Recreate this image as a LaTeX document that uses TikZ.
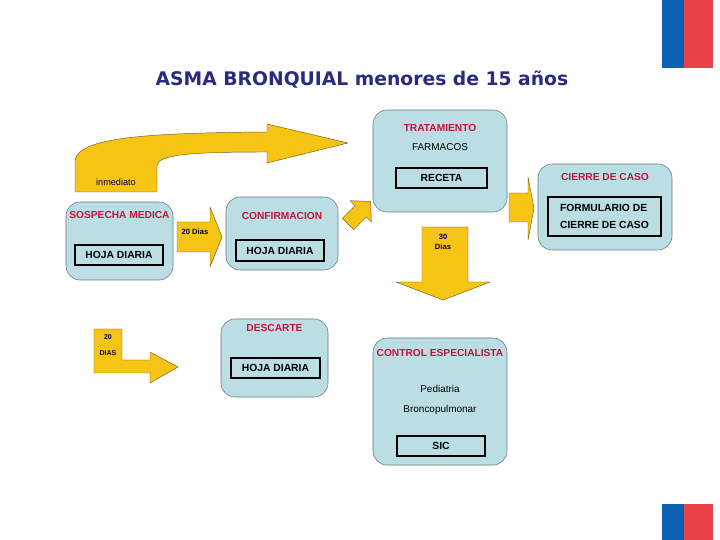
\documentclass[tikz,border=0pt]{standalone}
\usepackage{fontspec}
\setmainfont{Liberation Sans}
\newfontfamily\headfont{DejaVu Sans}
\usetikzlibrary{positioning,calc}
\definecolor{flagblue}{RGB}{12,98,178}
\definecolor{flagred}{RGB}{232,66,72}
\definecolor{headnavy}{RGB}{42,42,128}
\definecolor{boxcyan}{RGB}{186,222,228}
\definecolor{boxedge}{RGB}{105,125,135}
\definecolor{ttlred}{RGB}{196,20,62}
\definecolor{arrgold}{RGB}{246,196,18}
\definecolor{arredge}{RGB}{110,95,40}
\newcommand{\pxu}{0.03cm}
\tikzset{
  stage/.style={rounded corners=12pt, draw=boxedge, line width=0.5pt, fill=boxcyan, inner sep=0pt},
  docbox/.style={draw=black, line width=1pt, inner sep=0pt, align=center, font=\fontsize{8.8}{15}\selectfont\bfseries},
  ttl/.style={text=ttlred, font=\fontsize{8.7}{9}\selectfont\bfseries},
  txt/.style={font=\fontsize{8.5}{9}\selectfont},
  blockarr/.style={fill=arrgold, draw=arredge, line width=0.4pt, line join=round},
  arrtxt/.style={font=\fontsize{6.5}{8}\selectfont\bfseries, text=black!75!blue},
}

\begin{document}
\begin{tikzpicture}[x=\pxu, y=-\pxu]
    \useasboundingbox (0,0) rectangle (720,540);
    % flag corners
    \fill[flagblue] (662,0) rectangle (684,68);
    \fill[flagred]  (684,0) rectangle (713,68);
    \fill[flagblue] (662,504) rectangle (684,540);
    \fill[flagred]  (684,504) rectangle (713,540);
    % heading
    \node[font=\headfont\fontsize{16}{18}\selectfont\bfseries, text=headnavy] (heading) at (362,80) {ASMA BRONQUIAL menores de 15 años};
    % stages
    \node[stage, minimum width=107*\pxu, minimum height=78*\pxu]  (sosp)   at (119.5,241) {};
    \node[stage, minimum width=112*\pxu, minimum height=73*\pxu]  (conf)   at (282,233.5) {};
    \node[stage, minimum width=134*\pxu, minimum height=102*\pxu] (trat)   at (440,161) {};
    \node[stage, minimum width=134*\pxu, minimum height=86*\pxu]  (cierre) at (605,207) {};
    \node[stage, minimum width=107*\pxu, minimum height=78*\pxu]  (desc)   at (274.5,358) {};
    \node[stage, minimum width=134*\pxu, minimum height=127*\pxu] (ctrl)   at (440,401.5) {};
    % titles
    \node[ttl] (sospttl)   at ($(sosp.north)+(0,13)$)   {SOSPECHA MEDICA};
    \node[ttl] (confttl)   at ($(conf.north)+(0,19)$)   {CONFIRMACION};
    \node[ttl] (tratttl)   at ($(trat.north)+(0,18)$)   {TRATAMIENTO};
    \node[ttl] (cierrettl) at ($(cierre.north)+(0,13)$) {CIERRE DE CASO};
    \node[ttl] (descttl)   at ($(desc.north)+(0,9)$)    {DESCARTE};
    \node[ttl] (ctrlttl)   at ($(ctrl.north)+(0,15)$)   {CONTROL ESPECIALISTA};
    \node[txt] (farm)  at ($(trat.north)+(0,37)$) {FARMACOS};
    \node[txt] (pedi)  at ($(ctrl.north)+(0,51)$) {Pediatria};
    \node[txt] (bronc) at ($(ctrl.north)+(0,72)$) {Broncopulmonar};
    % documents
    \node[docbox, minimum width=88*\pxu, minimum height=20*\pxu]  (sospdoc)   at (119,255)    {HOJA DIARIA};
    \node[docbox, minimum width=88*\pxu, minimum height=21*\pxu]  (confdoc)   at (280,250.5)  {HOJA DIARIA};
    \node[docbox, minimum width=91*\pxu, minimum height=20*\pxu]  (receta)    at (441.5,178)  {RECETA};
    \node[docbox, minimum width=113*\pxu, minimum height=39*\pxu, align=left] (formdoc) at (604.5,216.5) {FORMULARIO DE\\CIERRE DE CASO};
    \node[docbox, minimum width=89*\pxu, minimum height=20*\pxu]  (descdoc)   at (275.5,368)  {HOJA DIARIA};
    \node[docbox, minimum width=88*\pxu, minimum height=20*\pxu]  (sic)       at (441,446)    {SIC};
    % block arrows
    \draw[blockarr] (75,192) -- (75,160) .. controls (80,138) and (140,133) .. (267,132)
        -- (267,124) -- (348,143) -- (267,163) -- (267,152)
        .. controls (185,152) and (160,155) .. (157,165) -- (157,192) -- cycle;
    \node[arrtxt, font=\fontsize{7.8}{9}\selectfont, text=black!70!blue] (inmed) at (116,182) {inmediato};
    \draw[blockarr] (177,222) -- (210,222) -- (210,207) -- (222,237) -- (210,267) -- (210,252) -- (177,252) -- cycle;
    \node[arrtxt] (dias1) at (195,232) {20 Dias};
    \draw[blockarr] (353.7,229.7) -- (366.4,217) -- (371.3,221.9) -- (370.6,201.4)
        -- (350.1,200.7) -- (355,205.6) -- (342.3,218.3) -- cycle;
    \draw[blockarr] (509,193) -- (528,193) -- (528,177) -- (534,208) -- (528,240) -- (528,222) -- (509,222) -- cycle;
    \draw[blockarr] (422,227) -- (468,227) -- (468,282) -- (490,282) -- (443,300) -- (396,282) -- (422,282) -- cycle;
    \node[arrtxt, align=center] (dias2) at (443,242) {30\\Dias};
    \draw[blockarr] (94,329) -- (122,329) -- (122,360) -- (150,360) -- (150,352) -- (178,367)
        -- (150,383) -- (150,373) -- (94,373) -- cycle;
    \node[arrtxt, font=\fontsize{6}{7}\selectfont\bfseries] (dias3a) at (108,337) {20};
    \node[arrtxt, font=\fontsize{6}{7}\selectfont\bfseries] (dias3b) at (108,353) {DIAS};
\end{tikzpicture}
\end{document}
